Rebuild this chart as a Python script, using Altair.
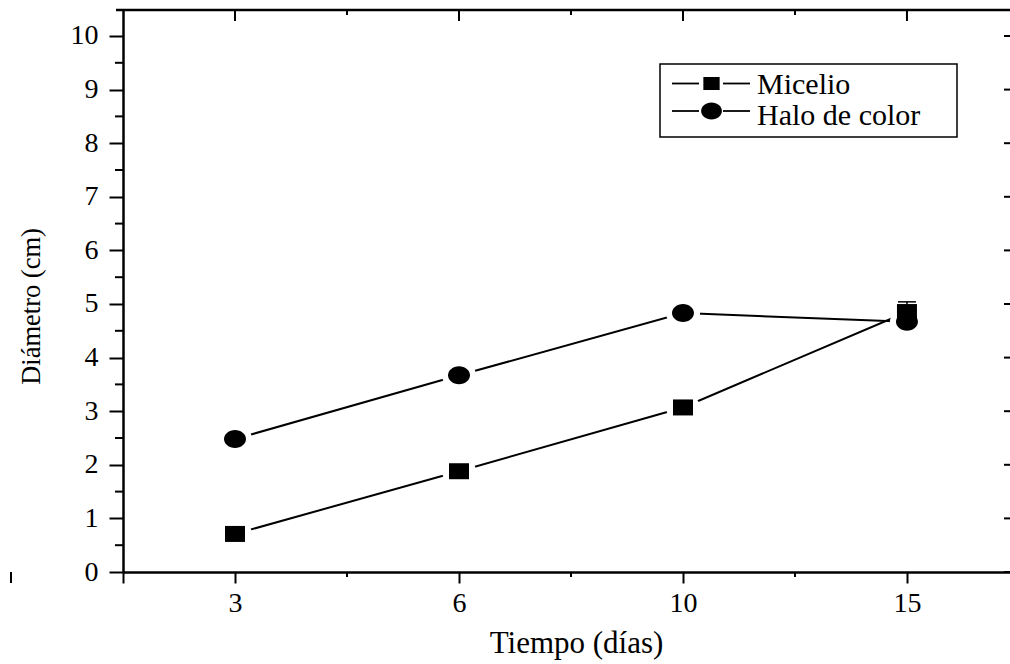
import altair as alt
import pandas as pd

# ---- data ----
days = ["3", "6", "10", "15"]
series_names = ["Micelio", "Halo de color"]
micelio = [0.71, 1.88, 3.07, 4.85]
micelio_err = [0.05, 0.06, 0.07, 0.19]
halo = [2.48, 3.67, 4.83, 4.67]
halo_err = [0.05, 0.05, 0.06, 0.08]
y_major = list(range(0, 11))
y_minor = [v + 0.5 for v in range(0, 10)]
x_major = [0, 1, 2, 3]
x_minor = [0.5, 1.5, 2.5]

W, H = 887, 562
FONT = "Liberation Serif"

rows = []
for name, vals, errs in [(series_names[0], micelio, micelio_err), (series_names[1], halo, halo_err)]:
    for i, (d, v, e) in enumerate(zip(days, vals, errs)):
        rows.append({"series": name, "idx": i, "day": d, "value": v, "lo": v - e, "hi": v + e})
df = pd.DataFrame(rows)

SQUARE = "M-1.25,-1L1.25,-1L1.25,1L-1.25,1Z"
ELLIPSE = "M-1.22,0A1.22,1,0,1,1,1.22,0A1.22,1,0,1,1,-1.22,0Z"

xscale = alt.Scale(domain=[-0.5, 3.46], nice=False, zero=False)
yscale = alt.Scale(domain=[0, 10.485], nice=False, zero=False)

label_js = "[" + ",".join("'%s'" % d for d in days) + "]"

x_axis = alt.Axis(
    values=[-0.5] + x_major,
    labelExpr=label_js + "[datum.value] || ''",
    title="Tiempo (días)",
    grid=False, domainColor="black", domainWidth=2.5,
    tickColor="black", tickSize=11, tickWidth=2,
    labelFont=FONT, labelFontSize=28, labelColor="black", labelPadding=6,
    titleFont=FONT, titleFontSize=31, titleFontWeight="normal", titleColor="black",
    titleX=453, titleY=80, titleBaseline="alphabetic", titleAlign="center",
)
y_axis = alt.Axis(
    values=y_major, title="Diámetro (cm)",
    grid=False, domainColor="black", domainWidth=2.5,
    tickColor="black", tickSize=14, tickWidth=2,
    labelFont=FONT, labelFontSize=28, labelColor="black", labelPadding=11,
    labelBaseline="middle",
    titleFont=FONT, titleFontSize=26.5, titleFontWeight="normal", titleColor="black",
    titleX=-84, titleY=296, titleAngle=270, titleBaseline="alphabetic", titleAlign="center",
)


def X(field):
    return alt.X(field, scale=xscale, axis=x_axis, title="Tiempo (días)")


def Y(field):
    return alt.Y(field, scale=yscale, axis=y_axis, title="Diámetro (cm)")


base = alt.Chart(df)

lines = base.mark_line(color="black", strokeWidth=2).encode(
    x=X("idx:Q"), y=Y("value:Q"), detail="series:N",
)

halos = base.mark_point(filled=True, color="white", opacity=1, shape=ELLIPSE, size=784).encode(
    x=X("idx:Q"), y=Y("value:Q"),
)

err_rule = base.mark_rule(color="black", strokeWidth=1.5).encode(
    x=X("idx:Q"), y=Y("lo:Q"), y2="hi:Q",
)
cap_hi = base.mark_tick(color="black", orient="horizontal", size=18, thickness=1.5, opacity=1).encode(
    x=X("idx:Q"), y=Y("hi:Q"),
)
cap_lo = base.mark_tick(color="black", orient="horizontal", size=18, thickness=1.5, opacity=1).encode(
    x=X("idx:Q"), y=Y("lo:Q"),
)

squares = base.transform_filter(alt.datum.series == series_names[0]).mark_point(
    filled=True, color="black", opacity=1, shape=SQUARE, size=256
).encode(x=X("idx:Q"), y=Y("value:Q"))
circles = base.transform_filter(alt.datum.series == series_names[1]).mark_point(
    filled=True, color="black", opacity=1, shape=ELLIPSE, size=324
).encode(x=X("idx:Q"), y=Y("value:Q"))


# ---- frame ticks (minor / mirrored) ----
def xrule(vals, y0, y1):
    return alt.Chart(pd.DataFrame({"v": vals})).mark_rule(color="black", strokeWidth=2).encode(
        x=X("v:Q"), y=alt.value(y0), y2=alt.value(y1))


def yrule(vals, x0, x1):
    return alt.Chart(pd.DataFrame({"v": vals})).mark_rule(color="black", strokeWidth=2).encode(
        y=Y("v:Q"), x=alt.value(x0), x2=alt.value(x1))


one = pd.DataFrame({"a": [0]})
top_border = alt.Chart(one).mark_rule(color="black", strokeWidth=2.5).encode(
    x=alt.value(-7), x2=alt.value(W), y=alt.value(0))

deco = [
    top_border,
    xrule(x_minor, H, H + 5),        # bottom minor
    xrule([-1], H, H + 11),          # stray tick left of the axis
    xrule(x_major, 0, 11),           # top major (inward)
    xrule(x_minor, 0, 5),            # top minor (inward)
    yrule(y_minor, -8, 0),           # left minor
    yrule(y_major, W - 6, W),        # right major (inward)
]

# ---- legend box ----
legend_layers = [
    alt.Chart(one).mark_rect(fill="white", stroke="black", strokeWidth=1.5).encode(
        x=alt.value(537), x2=alt.value(834), y=alt.value(54), y2=alt.value(127))
]
leg_shapes = [(SQUARE, 170), (ELLIPSE, 290)]
leg_rows_y = [73.5, 101]
leg_text_y = [83.5, 115]
for k, name in enumerate(series_names):
    ly = leg_rows_y[k]
    ld = pd.DataFrame({"name": [name]})
    legend_layers += [
        alt.Chart(ld).mark_rule(color="black", strokeWidth=1.8).encode(
            x=alt.value(549), x2=alt.value(576), y=alt.value(ly)),
        alt.Chart(ld).mark_rule(color="black", strokeWidth=1.8).encode(
            x=alt.value(600), x2=alt.value(627), y=alt.value(ly)),
        alt.Chart(ld).mark_point(filled=True, color="black", opacity=1,
                                 shape=leg_shapes[k][0], size=leg_shapes[k][1]).encode(
            x=alt.value(588.5), y=alt.value(ly)),
        alt.Chart(ld).mark_text(align="left", baseline="alphabetic", font=FONT,
                                fontSize=30, color="black").encode(
            x=alt.value(634), y=alt.value(leg_text_y[k]), text="name:N"),
    ]

chart = alt.layer(
    lines, halos, err_rule, cap_hi, cap_lo, squares, circles, *deco, *legend_layers
).properties(
    width=W, height=H,
    autosize=alt.AutoSizeParams(type="none"),
    padding={"left": 123, "top": 10, "right": 0, "bottom": 92},
).configure(background="white").configure_view(stroke=None)

chart.save("out.html", embed_options={"renderer": "svg", "actions": False})
